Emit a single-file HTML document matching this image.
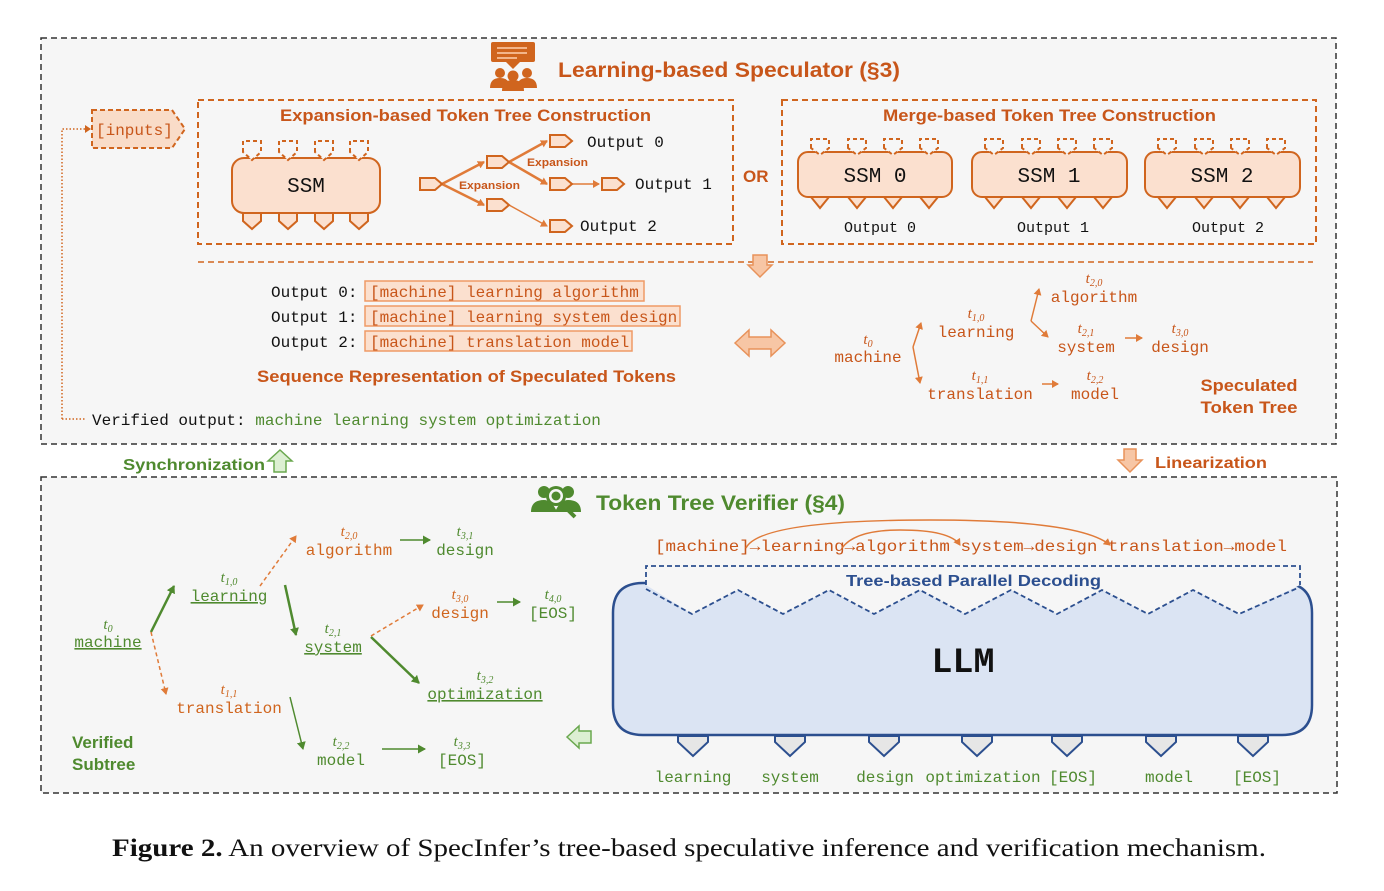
<!DOCTYPE html>
<html><head><meta charset="utf-8"><style>
html,body{margin:0;padding:0;background:#fff;}
svg{display:block;}
.m{font-family:"Liberation Mono","DejaVu Sans Mono",monospace;}
.s{font-family:"Liberation Sans",Arial,sans-serif;font-weight:bold;}
.o{fill:#c8561a;}
.g{fill:#4f8a2f;}
.k{fill:#111;}
.i{font-family:"Liberation Serif",serif;font-style:italic;font-size:15px;}
</style></head><body>
<svg width="1384" height="891" viewBox="0 0 1384 891" xmlns="http://www.w3.org/2000/svg">
<defs>
<marker id="ao" markerWidth="8" markerHeight="8" refX="6" refY="4" orient="auto" markerUnits="userSpaceOnUse"><path d="M0,0 L7,4 L0,8 Z" fill="#e07b39"/></marker>
<marker id="ag" markerWidth="9" markerHeight="9" refX="7" refY="4.5" orient="auto" markerUnits="userSpaceOnUse"><path d="M0,0 L8,4.5 L0,9 Z" fill="#4f8a2f"/></marker>
</defs>
<rect x="41" y="38" width="1295" height="406" fill="#f6f6f6" stroke="#333" stroke-width="1.5" stroke-dasharray="6,4"/>
<rect x="41" y="477" width="1296" height="316" fill="#f6f6f6" stroke="#333" stroke-width="1.5" stroke-dasharray="6,4"/>

<rect x="491" y="42" width="44" height="20" rx="2" fill="#d0651e"/>
<path d="M506,62 L513,69 L520,62 Z" fill="#d0651e"/>
<rect x="497" y="47" width="30" height="2" fill="#f3b58a"/><rect x="497" y="52" width="30" height="2" fill="#f3b58a"/><rect x="497" y="57" width="20" height="2" fill="#f3b58a"/>
<circle cx="500" cy="73" r="5" fill="#d0651e"/><circle cx="527" cy="73" r="5" fill="#d0651e"/><circle cx="513" cy="76" r="5.5" fill="#d0651e"/>
<path d="M490,88 q0,-10 10,-10 q10,0 10,10Z M517,88 q0,-10 10,-10 q10,0 10,10Z" fill="#d0651e"/>
<path d="M502,91 q0,-11 11,-11 q11,0 11,11Z" fill="#d0651e"/>
<text x="558" y="77" class="s o" font-size="21" textLength="342" lengthAdjust="spacingAndGlyphs">Learning-based Speculator (§3)</text>

<path d="M92,110 H172 L185,129 L172,148 H92 Z" fill="#f9dcc8" stroke="#d0651e" stroke-width="2" stroke-dasharray="5,3"/>
<text x="96" y="135" class="m o" font-size="16">[inputs]</text>
<path d="M62,419 V129 H86" fill="none" stroke="#d0651e" stroke-width="1.5" stroke-dasharray="1.5,2"/>
<path d="M85,125 L91,129 L85,133Z" fill="#d0651e"/>
<path d="M62,419 H86" fill="none" stroke="#d0651e" stroke-width="1.5" stroke-dasharray="1.5,2"/>

<rect x="198" y="100" width="535" height="144" fill="none" stroke="#d0651e" stroke-width="2" stroke-dasharray="6,4"/>
<text x="280" y="121" class="s o" font-size="17" textLength="371" lengthAdjust="spacingAndGlyphs">Expansion-based Token Tree Construction</text>
<g stroke="#d0651e" stroke-width="2" fill="#fbe0cf">
<rect x="232" y="158" width="148" height="55" rx="12"/>
<g stroke-dasharray="4,3" fill="#f6f6f6">
<path d="M243,152 V141 H261 V152 L252,160 Z"/><path d="M279,152 V141 H297 V152 L288,160 Z"/><path d="M315,152 V141 H333 V152 L324,160 Z"/><path d="M350,152 V141 H368 V152 L359,160 Z"/>
</g>
<path d="M243,213 H261 V221 L252,229 L243,221 Z"/><path d="M279,213 H297 V221 L288,229 L279,221 Z"/><path d="M315,213 H333 V221 L324,229 L315,221 Z"/><path d="M350,213 H368 V221 L359,229 L350,221 Z"/>
</g>
<text x="306" y="192" class="m k" font-size="21" text-anchor="middle">SSM</text>
<g stroke="#e07b39" stroke-width="2.5" fill="none">
<path d="M442,184 L484,162" marker-end="url(#ao)"/><path d="M442,184 L484,205" marker-end="url(#ao)"/>
<path d="M509,162 L547,141" marker-end="url(#ao)"/><path d="M509,162 L547,184" marker-end="url(#ao)"/>
<path d="M509,205 L547,226" stroke-width="1.5" marker-end="url(#ao)"/>
<path d="M572,184 L599,184" stroke-width="1.5" marker-end="url(#ao)"/>
</g>
<g fill="#fbe0cf" stroke="#d0651e" stroke-width="2">
<path d="M420,178 H435 L442,184 L435,190 H420Z"/>
<path d="M487,156 H502 L509,162 L502,168 H487Z"/>
<path d="M487,199 H502 L509,205 L502,211 H487Z"/>
<path d="M550,135 H565 L572,141 L565,147 H550Z"/>
<path d="M550,178 H565 L572,184 L565,190 H550Z"/>
<path d="M550,220 H565 L572,226 L565,232 H550Z"/>
<path d="M602,178 H617 L624,184 L617,190 H602Z"/>
</g>
<text x="459" y="189" class="s o" font-size="11" textLength="61" lengthAdjust="spacingAndGlyphs">Expansion</text>
<text x="527" y="166" class="s o" font-size="11" textLength="61" lengthAdjust="spacingAndGlyphs">Expansion</text>
<text x="587" y="147" class="m k" font-size="16">Output 0</text>
<text x="635" y="189" class="m k" font-size="16">Output 1</text>
<text x="580" y="231" class="m k" font-size="16">Output 2</text>
<text x="743" y="182" class="s o" font-size="17">OR</text>

<rect x="782" y="100" width="534" height="144" fill="none" stroke="#d0651e" stroke-width="2" stroke-dasharray="6,4"/>
<text x="883" y="121" class="s o" font-size="17" textLength="333" lengthAdjust="spacingAndGlyphs">Merge-based Token Tree Construction</text>
<g stroke="#d0651e" stroke-width="2" fill="#fbe0cf">
<rect x="798" y="152" width="154" height="45" rx="10"/>
<rect x="972" y="152" width="155" height="45" rx="10"/>
<rect x="1145" y="152" width="155" height="45" rx="10"/>
<g stroke-dasharray="4,3" fill="#f6f6f6">
<path d="M811,148 V139 H829 V148 L820,155Z"/><path d="M848,148 V139 H866 V148 L857,155Z"/><path d="M884,148 V139 H902 V148 L893,155Z"/><path d="M920,148 V139 H938 V148 L929,155Z"/>
<path d="M985,148 V139 H1003 V148 L994,155Z"/><path d="M1022,148 V139 H1040 V148 L1031,155Z"/><path d="M1058,148 V139 H1076 V148 L1067,155Z"/><path d="M1094,148 V139 H1112 V148 L1103,155Z"/>
<path d="M1158,148 V139 H1176 V148 L1167,155Z"/><path d="M1195,148 V139 H1213 V148 L1204,155Z"/><path d="M1231,148 V139 H1249 V148 L1240,155Z"/><path d="M1267,148 V139 H1285 V148 L1276,155Z"/>
</g>
<path d="M811,197 H829 L820,208Z"/><path d="M848,197 H866 L857,208Z"/><path d="M884,197 H902 L893,208Z"/><path d="M920,197 H938 L929,208Z"/>
<path d="M985,197 H1003 L994,208Z"/><path d="M1022,197 H1040 L1031,208Z"/><path d="M1058,197 H1076 L1067,208Z"/><path d="M1094,197 H1112 L1103,208Z"/>
<path d="M1158,197 H1176 L1167,208Z"/><path d="M1195,197 H1213 L1204,208Z"/><path d="M1231,197 H1249 L1240,208Z"/><path d="M1267,197 H1285 L1276,208Z"/>
</g>
<text x="875" y="182" class="m k" font-size="21" text-anchor="middle">SSM 0</text>
<text x="1049" y="182" class="m k" font-size="21" text-anchor="middle">SSM 1</text>
<text x="1222" y="182" class="m k" font-size="21" text-anchor="middle">SSM 2</text>
<text x="880" y="232" class="m k" font-size="15" text-anchor="middle">Output 0</text>
<text x="1053" y="232" class="m k" font-size="15" text-anchor="middle">Output 1</text>
<text x="1228" y="232" class="m k" font-size="15" text-anchor="middle">Output 2</text>

<line x1="198" y1="262" x2="1313" y2="262" stroke="#d0651e" stroke-width="1.5" stroke-dasharray="6,4"/>
<path d="M753,255 H767 V265 H772 L760,277 L748,265 H753Z" fill="#f7c6a5" stroke="#e8925a" stroke-width="1.5"/>

<text x="271" y="297" class="m k" font-size="16">Output 0:</text>
<text x="271" y="322" class="m k" font-size="16">Output 1:</text>
<text x="271" y="347" class="m k" font-size="16">Output 2:</text>
<g fill="#fbe0cf" stroke="#ef9a66" stroke-width="1.5">
<rect x="365" y="281" width="279" height="20"/><rect x="365" y="306" width="315" height="20"/><rect x="365" y="331" width="267" height="20"/>
</g>
<text x="370" y="297" class="m o" font-size="16">[machine] learning algorithm</text>
<text x="370" y="322" class="m o" font-size="16">[machine] learning system design</text>
<text x="370" y="347" class="m o" font-size="16">[machine] translation model</text>
<text x="257" y="382" class="s o" font-size="17" textLength="419" lengthAdjust="spacingAndGlyphs">Sequence Representation of Speculated Tokens</text>
<path d="M735,343 L749,330 V337 H771 V330 L785,343 L771,356 V349 H749 V356Z" fill="#f7c6a5" stroke="#e8925a" stroke-width="1.5"/>

<g class="m o" font-size="16" text-anchor="middle">
<text x="868" y="362">machine</text><text x="976" y="337">learning</text><text x="1094" y="302">algorithm</text>
<text x="1086" y="352">system</text><text x="1180" y="352">design</text><text x="980" y="399">translation</text><text x="1095" y="399">model</text>
</g>
<g class="i o" text-anchor="middle">
<text x="868" y="344">t<tspan font-size="10" dy="3">0</tspan></text>
<text x="976" y="318">t<tspan font-size="10" dy="3">1,0</tspan></text>
<text x="1094" y="283">t<tspan font-size="10" dy="3">2,0</tspan></text>
<text x="1086" y="333">t<tspan font-size="10" dy="3">2,1</tspan></text>
<text x="1180" y="333">t<tspan font-size="10" dy="3">3,0</tspan></text>
<text x="980" y="380">t<tspan font-size="10" dy="3">1,1</tspan></text>
<text x="1095" y="380">t<tspan font-size="10" dy="3">2,2</tspan></text>
</g>
<g stroke="#e07b39" stroke-width="1.5" fill="none">
<path d="M913,347 L921,323" marker-end="url(#ao)"/><path d="M913,347 L920,383" marker-end="url(#ao)"/>
<path d="M1031,321 L1039,289" marker-end="url(#ao)"/><path d="M1031,321 L1048,337" marker-end="url(#ao)"/>
<path d="M1125,338 L1142,338" marker-end="url(#ao)"/><path d="M1042,384 L1058,384" marker-end="url(#ao)"/>
</g>
<text x="1249" y="391" class="s o" font-size="17" text-anchor="middle" textLength="97" lengthAdjust="spacingAndGlyphs">Speculated</text>
<text x="1249" y="413" class="s o" font-size="17" text-anchor="middle" textLength="97" lengthAdjust="spacingAndGlyphs">Token Tree</text>

<text x="92" y="425" class="m" font-size="16"><tspan fill="#111">Verified output: </tspan><tspan fill="#4f8a2f">machine learning system optimization</tspan></text>

<text x="123" y="470" class="s g" font-size="16" textLength="142" lengthAdjust="spacingAndGlyphs">Synchronization</text>
<path d="M268,461 L280,450 L292,461 H286 V472 H274 V461Z" fill="#dcefd2" stroke="#6aa84f" stroke-width="1.5"/>
<path d="M1124,449 H1136 V460 H1142 L1130,472 L1118,460 H1124Z" fill="#f7c6a5" stroke="#e8925a" stroke-width="1.5"/>
<text x="1155" y="468" class="s o" font-size="16" textLength="112" lengthAdjust="spacingAndGlyphs">Linearization</text>

<g fill="#4f8a2f">
<circle cx="544" cy="492" r="6"/><circle cx="568" cy="492" r="6"/>
<path d="M531,512 q0,-12 13,-12 q8,0 13,12Z M555,512 q5,-12 13,-12 q13,0 13,12Z"/>
<circle cx="556" cy="496" r="10"/>
</g>
<circle cx="556" cy="496" r="7" fill="#f6f6f6"/><circle cx="556" cy="496" r="4.5" fill="#4f8a2f"/>
<path d="M562,504 L575,517" stroke="#4f8a2f" stroke-width="4"/>
<text x="596" y="510" class="s g" font-size="21" textLength="249" lengthAdjust="spacingAndGlyphs">Token Tree Verifier (§4)</text>

<g class="m" font-size="16" text-anchor="middle">
<text x="108" y="647" fill="#4f8a2f" text-decoration="underline">machine</text>
<text x="229" y="601" fill="#4f8a2f" text-decoration="underline">learning</text>
<text x="229" y="713" fill="#d0651e">translation</text>
<text x="349" y="555" fill="#d0651e">algorithm</text>
<text x="465" y="555" fill="#4f8a2f">design</text>
<text x="333" y="652" fill="#4f8a2f" text-decoration="underline">system</text>
<text x="460" y="618" fill="#d0651e">design</text>
<text x="553" y="618" fill="#4f8a2f">[EOS]</text>
<text x="485" y="699" fill="#4f8a2f" text-decoration="underline">optimization</text>
<text x="341" y="765" fill="#4f8a2f">model</text>
<text x="462" y="765" fill="#4f8a2f">[EOS]</text>
</g>
<g class="i" text-anchor="middle">
<text x="108" y="629" fill="#4f8a2f">t<tspan font-size="10" dy="3">0</tspan></text>
<text x="229" y="582" fill="#4f8a2f">t<tspan font-size="10" dy="3">1,0</tspan></text>
<text x="229" y="694" fill="#d0651e">t<tspan font-size="10" dy="3">1,1</tspan></text>
<text x="349" y="536" fill="#d0651e">t<tspan font-size="10" dy="3">2,0</tspan></text>
<text x="465" y="536" fill="#4f8a2f">t<tspan font-size="10" dy="3">3,1</tspan></text>
<text x="333" y="633" fill="#4f8a2f">t<tspan font-size="10" dy="3">2,1</tspan></text>
<text x="460" y="599" fill="#d0651e">t<tspan font-size="10" dy="3">3,0</tspan></text>
<text x="553" y="599" fill="#4f8a2f">t<tspan font-size="10" dy="3">4,0</tspan></text>
<text x="485" y="680" fill="#4f8a2f">t<tspan font-size="10" dy="3">3,2</tspan></text>
<text x="341" y="746" fill="#4f8a2f">t<tspan font-size="10" dy="3">2,2</tspan></text>
<text x="462" y="746" fill="#4f8a2f">t<tspan font-size="10" dy="3">3,3</tspan></text>
</g>
<g fill="none">
<path d="M151,632 L174,586" stroke="#4f8a2f" stroke-width="2.5" marker-end="url(#ag)"/>
<path d="M151,632 L166,694" stroke="#e07b39" stroke-width="1.5" stroke-dasharray="4,3" marker-end="url(#ao)"/>
<path d="M260,586 L296,536" stroke="#e07b39" stroke-width="1.5" stroke-dasharray="4,3" marker-end="url(#ao)"/>
<path d="M285,585 L296,635" stroke="#4f8a2f" stroke-width="2.5" marker-end="url(#ag)"/>
<path d="M371,636 L423,605" stroke="#e07b39" stroke-width="1.5" stroke-dasharray="4,3" marker-end="url(#ao)"/>
<path d="M371,637 L419,683" stroke="#4f8a2f" stroke-width="2.5" marker-end="url(#ag)"/>
<path d="M290,697 L303,749" stroke="#4f8a2f" stroke-width="1.5" marker-end="url(#ag)"/>
<path d="M400,540 L430,540" stroke="#4f8a2f" stroke-width="1.5" marker-end="url(#ag)"/>
<path d="M497,602 L520,602" stroke="#4f8a2f" stroke-width="1.5" marker-end="url(#ag)"/>
<path d="M382,749 L425,749" stroke="#4f8a2f" stroke-width="1.5" marker-end="url(#ag)"/>
</g>
<text x="72" y="748" class="s g" font-size="17">Verified</text>
<text x="72" y="770" class="s g" font-size="17">Subtree</text>
<path d="M567,737 L579,726 V731 H591 V743 H579 V748Z" fill="#dcefd2" stroke="#6aa84f" stroke-width="1.5"/>

<path d="M643,583 H1282 Q1312,583 1312,613 V705 Q1312,735 1282,735 H643 Q613,735 613,705 V613 Q613,583 643,583Z" fill="#dbe4f3" stroke="#2c4f8f" stroke-width="2.5"/>
<path d="M646,585 V566 H1300 V585" fill="#f6f6f6" stroke="#2c4f8f" stroke-width="1.8" stroke-dasharray="5,3"/>
<path d="M646,585 L692,614 L738,590 L783,614 L829,590 L874,614 L920,590 L965,614 L1011,590 L1057,614 L1102,590 L1148,614 L1193,590 L1239,614 L1300,585 Z" fill="#f6f6f6" stroke="none"/>
<path d="M646,589 L692,614 L738,590 L783,614 L829,590 L874,614 L920,590 L965,614 L1011,590 L1057,614 L1102,590 L1148,614 L1193,590 L1239,614 L1300,587" fill="none" stroke="#2c4f8f" stroke-width="1.8" stroke-dasharray="5,3"/>
<text x="846" y="586" class="s" font-size="16" fill="#2c4f8f" textLength="255" lengthAdjust="spacingAndGlyphs">Tree-based Parallel Decoding</text>
<text x="963" y="672" class="m k" font-size="35" font-weight="bold" text-anchor="middle">LLM</text>
<g fill="#e6e6e6" stroke="#2c4f8f" stroke-width="2">
<path d="M678,736 H708 V742 L693,756 L678,742Z"/>
<path d="M775,736 H805 V742 L790,756 L775,742Z"/>
<path d="M869,736 H899 V742 L884,756 L869,742Z"/>
<path d="M962,736 H992 V742 L977,756 L962,742Z"/>
<path d="M1052,736 H1082 V742 L1067,756 L1052,742Z"/>
<path d="M1146,736 H1176 V742 L1161,756 L1146,742Z"/>
<path d="M1238,736 H1268 V742 L1253,756 L1238,742Z"/>
</g>
<g class="m g" font-size="16" text-anchor="middle">
<text x="693" y="782">learning</text><text x="790" y="782">system</text><text x="885" y="782">design</text>
<text x="983" y="782">optimization</text><text x="1073" y="782">[EOS]</text><text x="1169" y="782">model</text><text x="1257" y="782">[EOS]</text>
</g>
<text x="655" y="551" class="m o" font-size="16" textLength="632" lengthAdjust="spacingAndGlyphs">[machine]→learning→algorithm system→design translation→model</text>
<g fill="none" stroke="#e07b39" stroke-width="1.5">
<path d="M746,548 Q760,520 930,520 Q1080,520 1110,545" marker-end="url(#ao)"/>
<path d="M842,548 Q855,530 900,530 Q950,530 960,545" marker-end="url(#ao)"/>
</g>

<text x="112" y="856" font-family="'Liberation Serif',serif" font-size="25" fill="#111" textLength="1154" lengthAdjust="spacingAndGlyphs"><tspan font-weight="bold">Figure 2.</tspan> An overview of SpecInfer’s tree-based speculative inference and verification mechanism.</text>
</svg>
</body></html>
